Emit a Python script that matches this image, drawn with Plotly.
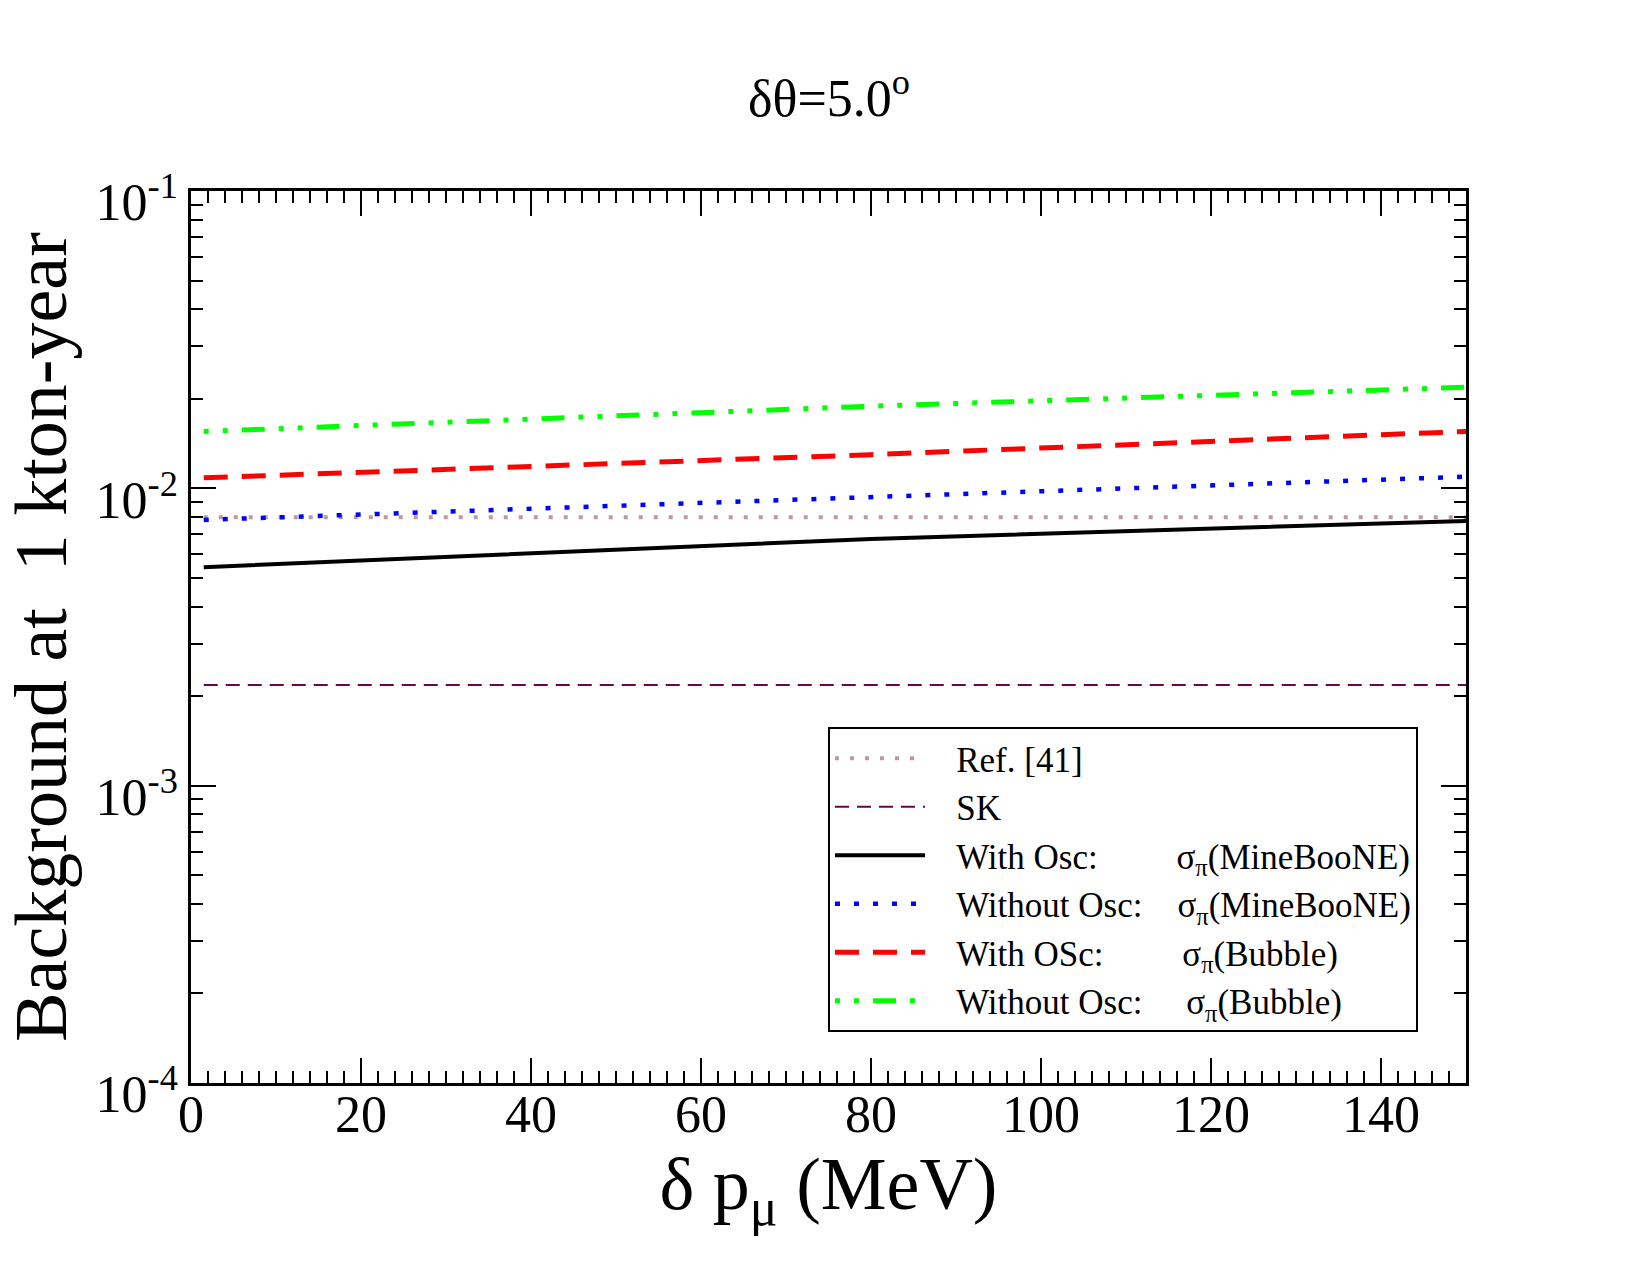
import plotly.graph_objects as go

# ---- data ----
x_pts = [1.5, 80, 150]
ref41 = [0.0080, 0.0080, 0.0080]
sk = [0.00218, 0.00218, 0.00218]
with_osc_mb = [0.00543, 0.00676, 0.00777]
without_osc_mb = [0.00783, 0.00937, 0.01094]
with_osc_bub = [0.01085, 0.01298, 0.01553]
without_osc_bub = [0.01553, 0.01889, 0.02188]

y_major = [1e-4, 1e-3, 1e-2, 1e-1]
y_major_text = ["10<sup>-4</sup>", "10<sup>-3</sup>", "10<sup>-2</sup>", "10<sup>-1</sup>"]
y_minor = [k * 10.0 ** e for e in (-4, -3, -2) for k in range(2, 10)]

FONT = "Liberation Serif"
NB = "\u00a0"
PRE = NB * 3

series = [
    ("Ref. [41]", ref41, "#c09a9a", 4, "4px,11px"),
    ("SK", sk, "#670748", 2, "14px,8px"),
    ("With Osc:" + NB * 9 + "σ<sub>π</sub>(MineBooNE)", with_osc_mb, "#000000", 4, "solid"),
    ("Without Osc:" + NB * 4 + "σ<sub>π</sub>(MineBooNE)", without_osc_mb, "#0000ff", 4.5, "5px,14px"),
    ("With OSc:" + NB * 9 + "σ<sub>π</sub>(Bubble)", with_osc_bub, "#ff0000", 5, "24px,14px"),
    ("Without Osc:" + NB * 5 + "σ<sub>π</sub>(Bubble)", without_osc_bub, "#00ff00", 5, "5px,14px,5px,14px,23px,14px"),
]

fig = go.Figure()
for name, ys, color, w, dash in series:
    fig.add_trace(go.Scatter(x=x_pts, y=ys, mode="lines", name=PRE + name,
                             line=dict(color=color, width=w, dash=dash)))

axis_common = dict(
    showline=True, linecolor="black", linewidth=2.5, mirror="allticks",
    ticks="inside", ticklen=25, tickwidth=2, tickcolor="black",
    showgrid=False, zeroline=False,
    tickfont=dict(family=FONT, size=52, color="black"),
)

fig.update_layout(
    width=1650, height=1275,
    margin=dict(l=191, r=184, t=191, b=192),
    paper_bgcolor="white", plot_bgcolor="white",
    font=dict(family=FONT, color="black"),
    showlegend=True,
    legend=dict(
        x=0.4996, y=0.399, xanchor="left", yanchor="top",
        bordercolor="black", borderwidth=2, bgcolor="white",
        font=dict(family=FONT, size=35, color="black"),
        itemwidth=90, tracegroupgap=0,
    ),
    xaxis=dict(
        range=[0, 150], dtick=20, tick0=0,
        minor=dict(dtick=2, ticks="inside", ticklen=12, tickwidth=2, tickcolor="black"),
        ticklabelstandoff=-16,
        title=dict(text="δ p<sub>μ</sub> (MeV)", font=dict(family=FONT, size=74, color="black"), standoff=0),
        **axis_common,
    ),
    yaxis=dict(
        type="log", range=[-4, -1],
        tickmode="array", tickvals=y_major, ticktext=y_major_text,
        minor=dict(tickmode="array", tickvals=y_minor, ticks="inside", ticklen=12, tickwidth=2, tickcolor="black"),
        ticklabelshift=11,
        title=dict(text="Background at" + NB * 2 + "1 kton-year", font=dict(family=FONT, size=74, color="black"), standoff=18),
        **axis_common,
    ),
    annotations=[dict(
        text="δθ=5.0<sup>o</sup>", xref="paper", yref="paper", x=0.5, y=1.0,
        yshift=97, xanchor="center", yanchor="middle", showarrow=False,
        font=dict(family=FONT, size=52, color="black"),
    )],
)

fig.write_html("out.html")
